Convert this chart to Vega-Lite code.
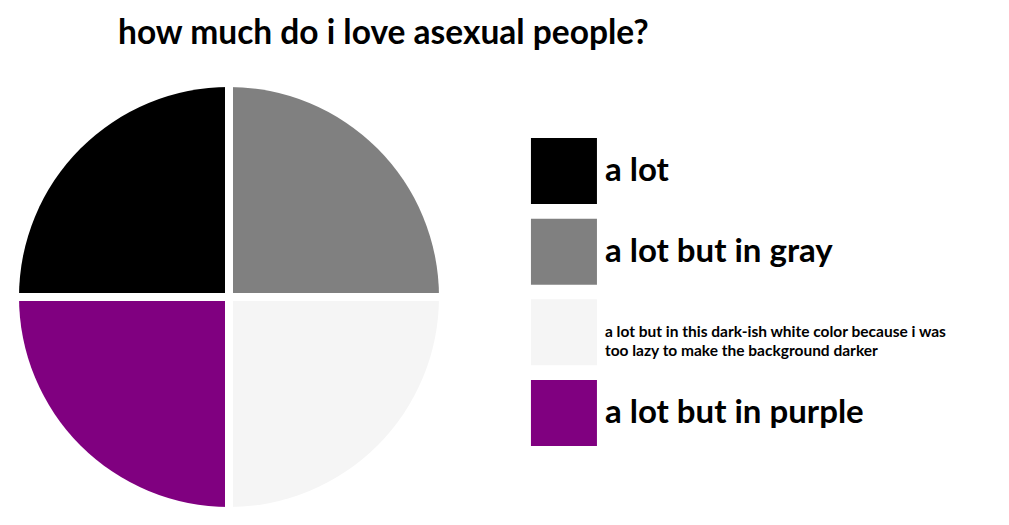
{
  "$schema": "https://vega.github.io/schema/vega-lite/v6.json",
  "width": 420,
  "height": 420,
  "autosize": {"type": "none"},
  "padding": {"left": 19, "top": 87, "right": 570, "bottom": 18},
  "background": "white",
  "config": {"view": {"stroke": null}, "font": "Lato"},
  "title": {
    "text": "how much do i love asexual people?",
    "anchor": "start",
    "frame": "group",
    "dx": 99,
    "offset": 32,
    "font": "Lato",
    "fontSize": 33.5,
    "fontWeight": "bold",
    "color": "black"
  },
  "data": {
    "values": [
      {"label": "a lot", "value": 25},
      {"label": "a lot but in gray", "value": 25},
      {"label": "a lot but in this dark-ish white color because i was too lazy to make the background darker", "value": 25},
      {"label": "a lot but in purple", "value": 25}
    ]
  },
  "resolve": {"scale": {"y": "independent"}},
  "layer": [
    {
      "transform": [{"stack": "value", "groupby": [], "as": ["v0", "v1"]}],
      "mark": {"type": "arc", "outerRadius": 210, "strokeWidth": 0},
      "encoding": {
        "theta": {"field": "v0", "type": "quantitative", "stack": null, "scale": {"domain": [0, 100], "range": [-1.5707963, 4.712389]}},
        "theta2": {"field": "v1"},
        "color": {
          "field": "label",
          "type": "nominal",
          "scale": {
            "domain": ["a lot", "a lot but in gray", "a lot but in this dark-ish white color because i was too lazy to make the background darker", "a lot but in purple"],
            "range": ["#000000", "#808080", "#f5f5f5", "#800080"]
          },
          "legend": null
        }
      }
    },
    {
      "mark": {"type": "rule", "color": "white", "strokeWidth": 8},
      "encoding": {
        "x": {"datum": 0, "type": "quantitative", "scale": {"domain": [-1, 1]}, "axis": null},
        "y": {"datum": -1, "type": "quantitative", "scale": {"domain": [-1, 1]}, "axis": null},
        "y2": {"datum": 1}
      }
    },
    {
      "mark": {"type": "rule", "color": "white", "strokeWidth": 8},
      "encoding": {
        "y": {"datum": 0, "type": "quantitative", "scale": {"domain": [-1, 1]}, "axis": null},
        "x": {"datum": -1, "type": "quantitative", "scale": {"domain": [-1, 1]}, "axis": null},
        "x2": {"datum": 1}
      }
    },
    {
      "mark": {"type": "square", "size": 4356, "filled": true, "opacity": 1, "strokeWidth": 0},
      "encoding": {
        "x": {"datum": 1.595, "type": "quantitative", "scale": {"domain": [-1, 1]}, "axis": null},
        "y": {
          "field": "label",
          "type": "nominal",
          "scale": {"type": "point", "padding": 0, "domain": ["a lot", "a lot but in gray", "a lot but in this dark-ish white color because i was too lazy to make the background darker", "a lot but in purple"], "range": [84, 326]},
          "axis": null
        },
        "color": {"field": "label", "type": "nominal", "legend": null}
      }
    },
    {
      "transform": [{"filter": "length(datum.label) < 40"}],
      "mark": {"type": "text", "align": "left", "baseline": "middle", "dx": 41, "font": "Lato", "fontWeight": "bold", "fontSize": 33, "color": "black"},
      "encoding": {
        "x": {"datum": 1.595, "type": "quantitative", "scale": {"domain": [-1, 1]}, "axis": null},
        "y": {
          "field": "label",
          "type": "nominal",
          "scale": {"type": "point", "padding": 0, "domain": ["a lot", "a lot but in gray", "a lot but in this dark-ish white color because i was too lazy to make the background darker", "a lot but in purple"], "range": [84, 326]},
          "axis": null
        },
        "text": {"field": "label"}
      }
    },
    {
      "transform": [{"filter": "length(datum.label) > 40"}],
      "mark": {"type": "text", "align": "left", "baseline": "middle", "dx": 41, "font": "Lato", "fontWeight": "bold", "fontSize": 15.5, "lineHeight": 19, "color": "black"},
      "encoding": {
        "x": {"datum": 1.595, "type": "quantitative", "scale": {"domain": [-1, 1]}, "axis": null},
        "y": {
          "field": "label",
          "type": "nominal",
          "scale": {"type": "point", "padding": 0, "domain": ["a lot", "a lot but in gray", "a lot but in this dark-ish white color because i was too lazy to make the background darker", "a lot but in purple"], "range": [84, 326]},
          "axis": null
        },
        "text": {"value": ["a lot but in this dark-ish white color because i was", "too lazy to make the background darker"]}
      }
    }
  ]
}
